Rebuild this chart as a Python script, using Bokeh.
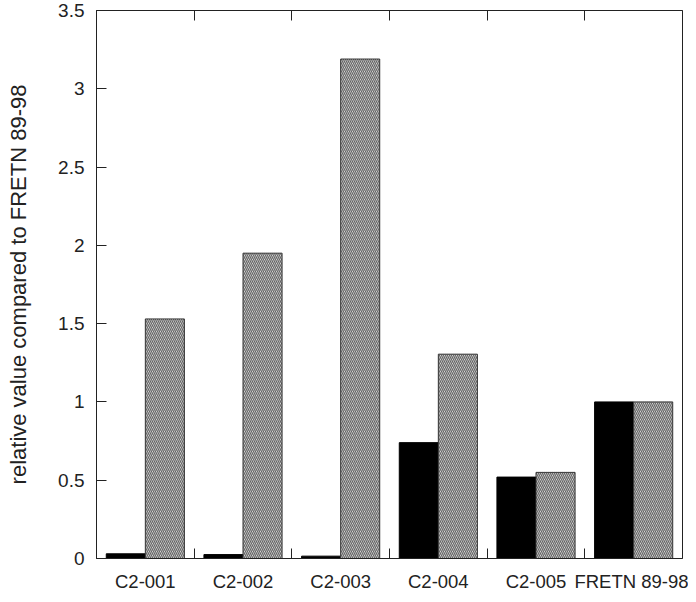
from bokeh.plotting import figure
from bokeh.models import ColumnDataSource, FixedTicker, LinearAxis, Range1d
from bokeh.embed import file_html
from bokeh.resources import INLINE

categories = ["C2-001", "C2-002", "C2-003", "C2-004", "C2-005", "FRETN 89-98"]
black_vals = [0.03, 0.025, 0.015, 0.74, 0.52, 1.0]
hatched_vals = [1.53, 1.95, 3.19, 1.305, 0.55, 1.0]
y_ticks = [0, 0.5, 1, 1.5, 2, 2.5, 3, 3.5]

n = len(categories)
centers = [i + 0.5 for i in range(n)]
bar_w = 0.40
src = ColumnDataSource(dict(
    xb=[c - bar_w / 2 for c in centers],
    xh=[c + bar_w / 2 for c in centers],
    black=black_vals,
    hatched=hatched_vals,
))

FONT = "Liberation Sans"
TXT = "#222222"

p = figure(width=688, height=594, output_backend="svg", toolbar_location=None,
           x_range=Range1d(0, n), y_range=Range1d(0, 3.5),
           x_axis_location=None, y_axis_location=None,
           min_border_left=96, min_border_right=6, min_border_top=10, min_border_bottom=0)
p.grid.visible = False
p.outline_line_color = "#222222"
p.outline_line_width = 1
p.background_fill_color = "white"
p.border_fill_color = "white"

p.vbar(x="xb", top="black", bottom=0, width=bar_w, source=src,
       fill_color="black", line_color="black", line_width=1)
p.vbar(x="xh", top="hatched", bottom=0, width=bar_w, source=src,
       fill_color="#eeeeee", line_color="#333333", line_width=1,
       hatch_pattern="\\", hatch_color="#666666", hatch_scale=4, hatch_weight=1.3)

# left axis
yax = LinearAxis(ticker=FixedTicker(ticks=y_ticks))
yax.axis_label = "relative value compared to FRETN 89-98"
yax.axis_label_text_font = FONT
yax.axis_label_text_font_size = "22px"
yax.axis_label_text_font_style = "normal"
yax.axis_label_text_color = TXT
yax.axis_label_standoff = 24
yax.major_label_text_font = FONT
yax.major_label_text_font_size = "19px"
yax.major_label_text_color = TXT
yax.major_label_standoff = 12
yax.major_tick_in = 10
yax.major_tick_out = 0
yax.minor_tick_line_color = None
yax.axis_line_color = "#222222"
yax.major_tick_line_color = "#222222"
p.add_layout(yax, "left")

# bottom axis: labels at centres, ticks at category boundaries
bounds = [float(i) for i in range(1, n)]
xax = LinearAxis(ticker=FixedTicker(ticks=centers, minor_ticks=bounds))
xax.major_label_overrides = {c: lab for c, lab in zip(centers, categories)}
xax.major_label_text_font = FONT
xax.major_label_text_font_size = "18.5px"
xax.major_label_text_color = TXT
xax.major_label_standoff = 12
xax.major_tick_line_color = None
xax.major_tick_in = 0
xax.major_tick_out = 0
xax.minor_tick_in = 10
xax.minor_tick_out = 0
xax.minor_tick_line_color = "#222222"
xax.axis_line_color = "#222222"
p.add_layout(xax, "below")

# top axis: ticks only
tax = LinearAxis(ticker=FixedTicker(ticks=[], minor_ticks=bounds))
tax.major_label_text_font_size = "0px"
tax.major_label_standoff = 0
tax.major_tick_in = 0
tax.major_tick_out = 0
tax.minor_tick_in = 10
tax.minor_tick_out = 0
tax.minor_tick_line_color = "#222222"
tax.axis_line_color = "#222222"
p.add_layout(tax, "above")

open("out.html", "w").write(file_html(p, INLINE))
